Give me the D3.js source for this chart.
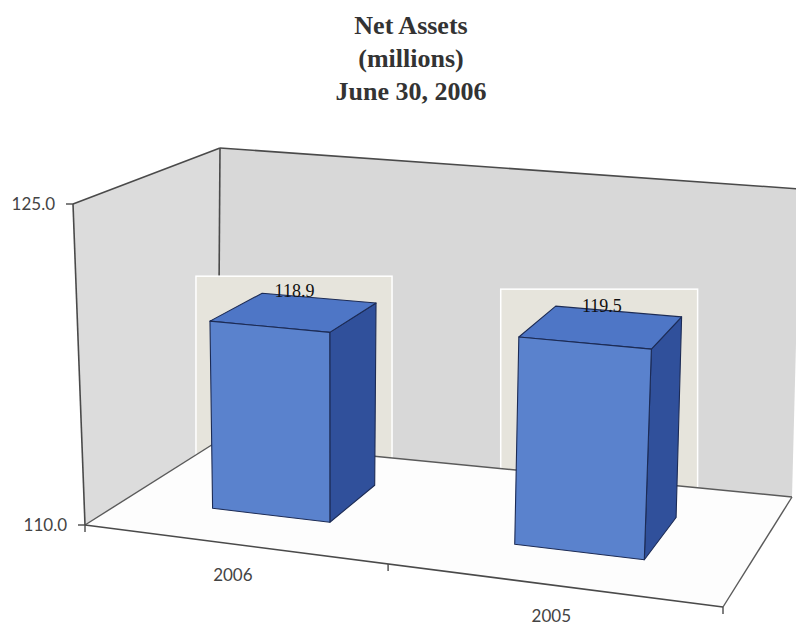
<!DOCTYPE html>
<html>
<head>
<meta charset="utf-8">
<script src="https://cdn.jsdelivr.net/npm/d3@7"></script>
<style>
    body { margin: 0; background: #fff; }
</style>
</head>
<body>
<div id="chart"></div>
<script>
const titleLines = ['Net Assets', '(millions)', 'June 30, 2006'];
const categories = ['2006', '2005'];
const netAssets = [118.9, 119.5];
const valueTicks = [110, 125];

const width = 796, height = 625;

// screen corners of the 3d box (u across, v up, w into the page)
const corners = {
    '000': [85, 525], '100': [723, 607], '001': [218, 441], '101': [792, 497],
    '010': [73, 204], '110': [741, 257], '011': [220, 148], '111': [800, 189]
};

function project(u, v, w) {
    let x = 0, y = 0;
    for (const a of [0, 1]) for (const b of [0, 1]) for (const c of [0, 1]) {
        const k = (a ? u : 1 - u) * (b ? v : 1 - v) * (c ? w : 1 - w);
        const p = corners[`${a}${b}${c}`];
        x += k * p[0];
        y += k * p[1];
    }
    return [x, y];
}

// the right side is nearer the eye, so squeeze the across axis a bit
const persp = t => 0.905 * t / (1 - 0.095 * t);

const x = d3.scaleBand().domain(categories).range([0, 1]).paddingInner(0.6).paddingOuter(0.3);
const y = d3.scaleLinear().domain([110, 125]).range([0, 1]);
const cat = d3.scaleBand().domain(categories).range([0, 1]);

const pt = (u, v, w) => project(persp(u), v, w);
const poly = pts => 'M' + pts.map(p => p.join(',')).join('L') + 'Z';
const seg = (a, b) => 'M' + a.join(',') + 'L' + b.join(',');

const svg = d3.select('#chart').append('svg')
    .attr('width', width)
    .attr('height', height);

// title
svg.append('g').selectAll('text').data(titleLines).join('text')
    .attr('x', 411)
    .attr('y', (d, i) => 34 + i * 33)
    .attr('text-anchor', 'middle')
    .style('font', 'bold 26px "Liberation Serif", serif')
    .attr('fill', '#333')
    .text(d => d);

// walls and floor
const leftWall = [pt(0, 0, 0), pt(0, 0, 1), pt(0, 1, 1), pt(0, 1, 0)];
const backWall = [pt(0, 0, 1), pt(1, 0, 1), pt(1, 1, 1), pt(0, 1, 1)];
const floor = [pt(0, 0, 0), pt(1, 0, 0), pt(1, 0, 1), pt(0, 0, 1)];

svg.append('path').attr('d', poly(leftWall)).attr('fill', '#dcdcdc');
svg.append('path').attr('d', poly(backWall)).attr('fill', '#d8d8d8');
svg.append('path').attr('d', poly(floor)).attr('fill', '#fdfdfd');

const wallLines = svg.append('g').attr('fill', 'none').attr('stroke', '#4a4a4a').attr('stroke-width', 1.6);
wallLines.append('path').attr('d', seg(pt(0, 1, 0), pt(0, 1, 1)));
wallLines.append('path').attr('d', seg(pt(0, 1, 1), pt(1, 1, 1)));
wallLines.append('path').attr('d', seg(pt(0, 0, 1), pt(0, 1, 1)));

// bar geometry
const bars = categories.map((c, i) => {
    const u0 = x(c), u1 = x(c) + x.bandwidth(), v1 = y(netAssets[i]);
    const w0 = 0.32, w1 = 0.72;
    return {
        name: c,
        value: netAssets[i],
        front: [pt(u0, 0, w0), pt(u1, 0, w0), pt(u1, v1, w0), pt(u0, v1, w0)],
        top: [pt(u0, v1, w0), pt(u1, v1, w0), pt(u1, v1, w1), pt(u0, v1, w1)],
        side: [pt(u1, 0, w0), pt(u1, 0, w1), pt(u1, v1, w1), pt(u1, v1, w0)]
    };
});

// pale patches behind each bar, kept on the walls
const clip = svg.append('clipPath').attr('id', 'walls');
clip.append('path').attr('d', poly(leftWall));
clip.append('path').attr('d', poly(backWall));

svg.append('g').attr('clip-path', 'url(#walls)')
    .selectAll('rect').data(bars).join('rect')
    .attr('x', d => d3.min([...d.front, ...d.side], p => p[0]) - 14)
    .attr('y', d => d3.min(d.top, p => p[1]) - 17)
    .attr('width', d => d3.max([...d.front, ...d.side], p => p[0]) - d3.min([...d.front, ...d.side], p => p[0]) + 30)
    .attr('height', 400)
    .attr('fill', '#e6e4dc')
    .attr('stroke', '#fff')
    .attr('stroke-width', 1.5);

// floor edges
const floorLines = svg.append('g').attr('fill', 'none').attr('stroke', '#5a5a5a').attr('stroke-width', 1.4);
floorLines.append('path').attr('d', seg(pt(0, 0, 0), pt(0, 0, 1)));
floorLines.append('path').attr('d', seg(pt(0, 0, 1), pt(1, 0, 1)));
floorLines.append('path').attr('d', seg(pt(1, 0, 0), pt(1, 0, 1)));

// bars
const barG = svg.append('g').selectAll('g').data(bars).join('g')
    .attr('stroke', '#1c2b55')
    .attr('stroke-width', 1.1)
    .attr('stroke-linejoin', 'round');
barG.append('path').attr('d', d => poly(d.side)).attr('fill', '#30509b');
barG.append('path').attr('d', d => poly(d.top)).attr('fill', '#4e76c6');
barG.append('path').attr('d', d => poly(d.front)).attr('fill', '#5a82cd');

// value labels above the centre of each top face
svg.append('g').selectAll('text').data(bars).join('text')
    .attr('x', d => d3.mean(d.top, p => p[0]))
    .attr('y', d => d3.mean(d.top, p => p[1]) - 15)
    .attr('text-anchor', 'middle')
    .style('font', '18px "Liberation Serif", serif')
    .attr('fill', '#111')
    .text(d => d.value.toFixed(1));

// value axis
const axisLines = svg.append('g').attr('fill', 'none').attr('stroke', '#4a4a4a').attr('stroke-width', 1.6);
axisLines.append('path').attr('d', seg(pt(0, 0, 0), pt(0, 1, 0)));
axisLines.append('path').attr('d', seg(pt(0, 0, 0), pt(1, 0, 0)));

const yTicks = svg.append('g').selectAll('g').data(valueTicks).join('g')
    .attr('transform', d => `translate(${pt(0, y(d), 0).join(',')})`);
yTicks.append('line').attr('x1', -7).attr('x2', 0).attr('stroke', '#4a4a4a').attr('stroke-width', 1.4);
yTicks.append('text')
    .attr('x', -18)
    .attr('dy', '0.35em')
    .attr('text-anchor', 'end')
    .style('font', '17px Lato, sans-serif')
    .attr('fill', '#444')
    .text(d => d.toFixed(1));

// category axis
const bounds = [0, ...categories.slice(1).map(c => cat(c)), 1];
svg.append('g').selectAll('line').data(bounds).join('line')
    .attr('transform', d => `translate(${pt(d, 0, 0).join(',')})`)
    .attr('y1', 0).attr('y2', 7)
    .attr('stroke', '#4a4a4a').attr('stroke-width', 1.4);

svg.append('g').selectAll('text').data(categories).join('text')
    .attr('transform', d => {
        const p = pt(cat(d) + cat.bandwidth() / 2, 0, 0);
        return `translate(${p[0]},${p[1] + 31})`;
    })
    .attr('dy', '0.35em')
    .attr('text-anchor', 'middle')
    .style('font', '17px Lato, sans-serif')
    .attr('fill', '#444')
    .text(d => d);
</script>
</body>
</html>
